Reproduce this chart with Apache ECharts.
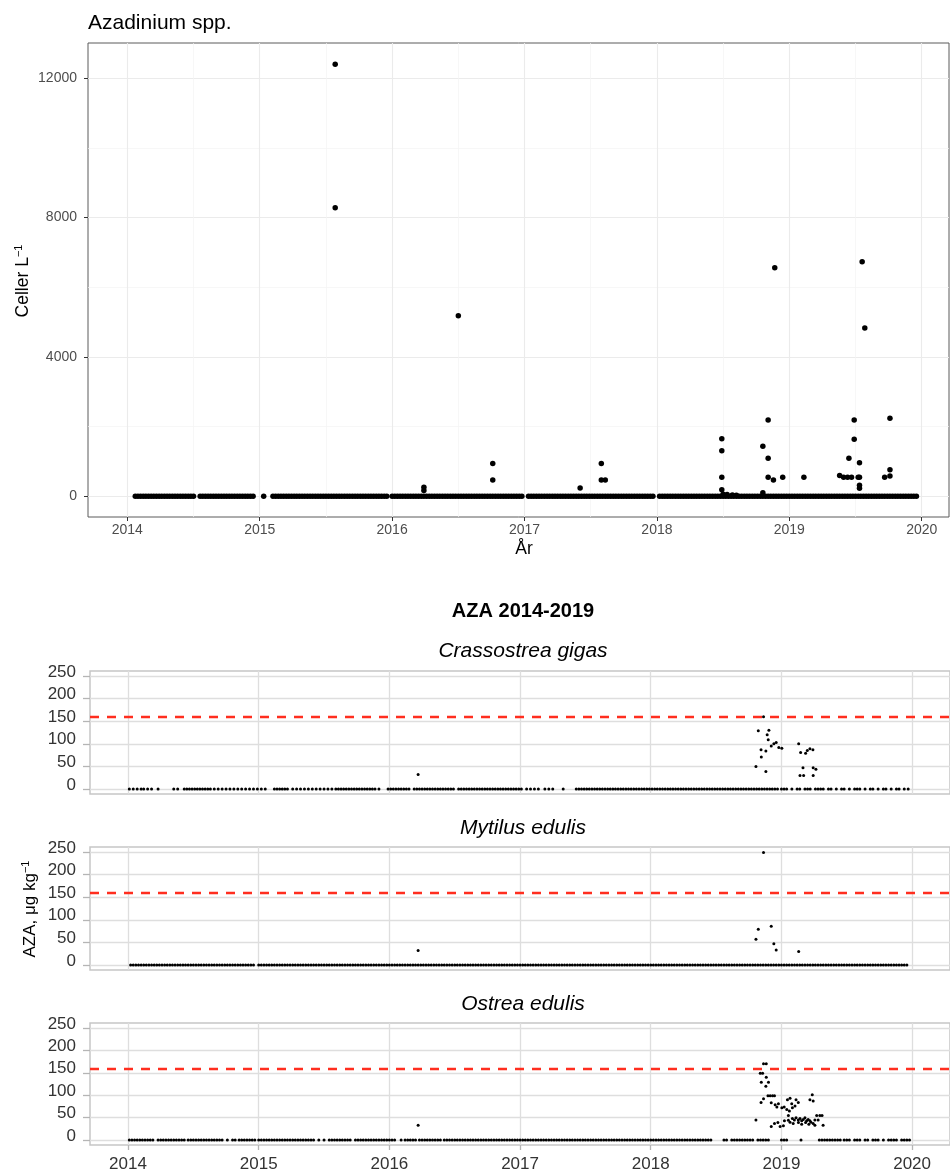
<!DOCTYPE html>
<html><head><meta charset="utf-8">
<script src="https://cdn.jsdelivr.net/npm/echarts@6/dist/echarts.min.js"></script>
<style>html,body{margin:0;padding:0;background:#fff}#c{width:950px;height:1173px}</style>
</head><body><div id="c"></div>
<script>
// ---------- axis ticks ----------
const yearTicks = [2014, 2015, 2016, 2017, 2018, 2019, 2020];
const halfYearLines = [2014.5, 2015.5, 2016.5, 2017.5, 2018.5, 2019.5];
const cellTicks = [0, 4000, 8000, 12000];
const cellMinorLines = [2000, 6000, 10000];
const azaTicks = [0, 50, 100, 150, 200, 250];
const azaLimit = 160;

// ---------- Azadinium spp. (celler/L) ----------
const cellZeroYears = [
2014.06,2014.08,2014.10,2014.12,2014.14,2014.16,2014.18,2014.20,2014.22,2014.24,2014.26,2014.28,2014.30,2014.32,2014.34,2014.36,2014.38,2014.40,2014.42,2014.44,2014.46,2014.48,2014.50,
2014.55,2014.57,2014.59,2014.61,2014.63,2014.65,2014.67,2014.69,2014.71,2014.73,2014.75,2014.77,2014.79,2014.81,2014.83,2014.85,2014.87,2014.89,2014.91,2014.93,2014.95,
2015.03,
2015.10,2015.12,2015.14,2015.16,2015.18,2015.20,2015.22,2015.24,2015.26,2015.28,2015.30,2015.32,2015.34,2015.36,2015.38,2015.40,2015.42,2015.44,2015.46,2015.48,2015.50,2015.52,2015.54,2015.56,2015.58,2015.60,2015.62,2015.64,2015.66,2015.68,2015.70,2015.72,2015.74,2015.76,2015.78,2015.80,2015.82,2015.84,2015.86,2015.88,2015.90,2015.92,2015.94,2015.96,
2016.00,2016.02,2016.04,2016.06,2016.08,2016.10,2016.12,2016.14,2016.16,2016.18,2016.20,2016.22,2016.24,2016.26,2016.28,2016.30,2016.32,2016.34,2016.36,2016.38,2016.40,2016.42,2016.44,2016.46,2016.48,2016.50,2016.52,2016.54,2016.56,2016.58,2016.60,2016.62,2016.64,2016.66,2016.68,2016.70,2016.72,2016.74,2016.76,2016.78,2016.80,2016.82,2016.84,2016.86,2016.88,2016.90,2016.92,2016.94,2016.96,2016.98,
2017.03,2017.05,2017.07,2017.09,2017.11,2017.13,2017.15,2017.17,2017.19,2017.21,2017.23,2017.25,2017.27,2017.29,2017.31,2017.33,2017.35,2017.37,2017.39,2017.41,2017.43,2017.45,2017.47,2017.49,2017.51,2017.53,2017.55,2017.57,2017.59,2017.61,2017.63,2017.65,2017.67,2017.69,2017.71,2017.73,2017.75,2017.77,2017.79,2017.81,2017.83,2017.85,2017.87,2017.89,2017.91,2017.93,2017.95,2017.97,
2018.02,2018.04,2018.06,2018.08,2018.10,2018.12,2018.14,2018.16,2018.18,2018.20,2018.22,2018.24,2018.26,2018.28,2018.30,2018.32,2018.34,2018.36,2018.38,2018.40,2018.42,2018.44,2018.46,2018.48,2018.50,2018.52,2018.54,2018.56,2018.58,2018.60,2018.62,2018.64,2018.66,2018.68,2018.70,2018.72,2018.74,2018.76,2018.78,2018.80,2018.82,2018.84,2018.86,2018.88,2018.90,2018.92,2018.94,2018.96,2018.98,
2019.00,2019.02,2019.04,2019.06,2019.08,2019.10,2019.12,2019.14,2019.16,2019.18,2019.20,2019.22,2019.24,2019.26,2019.28,2019.30,2019.32,2019.34,2019.36,2019.38,2019.40,2019.42,2019.44,2019.46,2019.48,2019.50,2019.52,2019.54,2019.56,2019.58,2019.60,2019.62,2019.64,2019.66,2019.68,2019.70,2019.72,2019.74,2019.76,2019.78,2019.80,2019.82,2019.84,2019.86,2019.88,2019.90,2019.92,2019.94,2019.96
];
const cellPeakYears  = [2015.57,2015.57,2016.24,2016.24,2016.50,2016.76,2016.76,2017.42,2017.58,2017.58,2017.61,2018.49,2018.49,2018.49,2018.49,2018.50,2018.53,2018.57,2018.60,2018.80,2018.80,2018.84,2018.84,2018.84,2018.88,2018.89,2018.95,2019.11,2019.38,2019.41,2019.44,2019.45,2019.47,2019.49,2019.49,2019.52,2019.53,2019.53,2019.53,2019.53,2019.55,2019.57,2019.72,2019.76,2019.76,2019.76];
const cellPeakValues = [12400,8280,260,170,5180,940,470,240,940,470,470,1650,1310,550,190,60,50,40,30,1440,100,2190,1090,550,470,6560,550,550,600,550,550,1090,550,2190,1640,550,960,550,320,230,6730,4830,550,2240,760,580];

// ---------- AZA, Crassostrea gigas ----------
const gigasZeroYears = [
2014.01,2014.04,2014.07,2014.10,2014.12,2014.15,2014.18,2014.23,
2014.35,2014.38,
2014.43,2014.45,2014.47,2014.49,2014.51,2014.53,2014.55,2014.57,2014.59,2014.61,2014.63,
2014.66,2014.69,2014.72,2014.75,2014.78,2014.81,2014.84,2014.87,2014.90,2014.93,2014.96,2014.99,
2015.02,2015.05,
2015.12,2015.14,2015.16,2015.18,2015.20,2015.22,
2015.26,2015.29,2015.32,2015.35,2015.38,2015.41,2015.44,2015.47,2015.50,2015.53,2015.56,
2015.59,2015.61,2015.63,2015.65,2015.67,2015.69,2015.71,2015.73,2015.75,2015.77,2015.79,2015.81,2015.83,2015.85,2015.87,2015.89,
2015.92,
2015.99,2016.01,2016.03,2016.05,2016.07,2016.09,2016.11,2016.13,2016.15,
2016.19,2016.21,2016.23,2016.25,2016.27,2016.29,2016.31,2016.33,2016.35,2016.37,2016.39,2016.41,2016.43,2016.45,2016.47,2016.49,
2016.53,2016.55,2016.57,2016.59,2016.61,2016.63,2016.65,2016.67,2016.69,2016.71,2016.73,2016.75,2016.77,2016.79,2016.81,2016.83,2016.85,2016.87,2016.89,2016.91,2016.93,2016.95,2016.97,2016.99,2017.01,
2017.05,2017.08,2017.11,2017.14,
2017.19,2017.22,2017.25,
2017.33,
2017.43,2017.45,2017.47,2017.49,2017.51,2017.53,2017.55,2017.57,2017.59,2017.61,2017.63,2017.65,2017.67,2017.69,2017.71,2017.73,2017.75,2017.77,2017.79,2017.81,2017.83,2017.85,2017.87,2017.89,2017.91,2017.93,2017.95,2017.97,2017.99,
2018.01,2018.03,2018.05,2018.07,2018.09,2018.11,2018.13,2018.15,2018.17,2018.19,2018.21,2018.23,2018.25,2018.27,2018.29,2018.31,2018.33,2018.35,2018.37,2018.39,2018.41,2018.43,2018.45,2018.47,2018.49,2018.51,2018.53,2018.55,2018.57,2018.59,2018.61,2018.63,2018.65,2018.67,2018.69,2018.71,2018.73,2018.75,2018.77,2018.79,2018.81,2018.83,2018.85,2018.87,2018.89,2018.91,2018.93,2018.95,2018.97,
2019.00,2019.02,2019.04,2019.08,2019.12,2019.14,2019.18,2019.20,2019.22,2019.26,2019.28,2019.30,2019.32,2019.36,2019.38,2019.42,2019.46,2019.48,2019.52,2019.56,2019.58,2019.60,2019.64,2019.68,2019.70,2019.74,2019.78,2019.80,2019.84,2019.88,2019.90,2019.94,2019.97
];
const gigasYears  = [2016.22,2018.805,2018.823,2018.844,2018.846,2018.863,2018.881,2018.881,2018.891,2018.904,2018.899,2018.922,2018.942,2018.960,2018.980,2019.003,2019.132,2019.142,2019.147,2019.165,2019.170,2019.185,2019.198,2019.218,2019.241,2019.243,2019.243,2019.264];
const gigasValues = [32,50,129,87,71,160,84,39,120,130,109,95,100,103,92,90,100,30,81,47,30,79,85,89,87,47,30,44];

// ---------- AZA, Mytilus edulis ----------
const mytilusZeroYears = [
2014.02,2014.04,2014.06,2014.08,2014.10,2014.12,2014.14,2014.16,2014.18,2014.20,2014.22,2014.24,2014.26,2014.28,2014.30,2014.32,2014.34,2014.36,2014.38,2014.40,2014.42,2014.44,2014.46,2014.48,2014.50,2014.52,2014.54,2014.56,2014.58,2014.60,2014.62,2014.64,2014.66,2014.68,2014.70,2014.72,2014.74,2014.76,2014.78,2014.80,2014.82,2014.84,2014.86,2014.88,2014.90,2014.92,2014.94,2014.96,
2015.00,2015.02,2015.04,2015.06,2015.08,2015.10,2015.12,2015.14,2015.16,2015.18,2015.20,2015.22,2015.24,2015.26,2015.28,2015.30,2015.32,2015.34,2015.36,2015.38,2015.40,2015.42,2015.44,2015.46,2015.48,2015.50,2015.52,2015.54,2015.56,2015.58,2015.60,2015.62,2015.64,2015.66,2015.68,2015.70,2015.72,2015.74,2015.76,2015.78,2015.80,2015.82,2015.84,2015.86,2015.88,2015.90,2015.92,2015.94,2015.96,2015.98,
2016.00,2016.02,2016.04,2016.06,2016.08,2016.10,2016.12,2016.14,2016.16,2016.18,2016.20,2016.22,2016.24,2016.26,2016.28,2016.30,2016.32,2016.34,2016.36,2016.38,2016.40,2016.42,2016.44,2016.46,2016.48,2016.50,2016.52,2016.54,2016.56,2016.58,2016.60,2016.62,2016.64,2016.66,2016.68,2016.70,2016.72,2016.74,2016.76,2016.78,2016.80,2016.82,2016.84,2016.86,2016.88,2016.90,2016.92,2016.94,2016.96,2016.98,
2017.00,2017.02,2017.04,2017.06,2017.08,2017.10,2017.12,2017.14,2017.16,2017.18,2017.20,2017.22,2017.24,2017.26,2017.28,2017.30,2017.32,2017.34,2017.36,2017.38,2017.40,2017.42,2017.44,2017.46,2017.48,2017.50,2017.52,2017.54,2017.56,2017.58,2017.60,2017.62,2017.64,2017.66,2017.68,2017.70,2017.72,2017.74,2017.76,2017.78,2017.80,2017.82,2017.84,2017.86,2017.88,2017.90,2017.92,2017.94,2017.96,2017.98,
2018.00,2018.02,2018.04,2018.06,2018.08,2018.10,2018.12,2018.14,2018.16,2018.18,2018.20,2018.22,2018.24,2018.26,2018.28,2018.30,2018.32,2018.34,2018.36,2018.38,2018.40,2018.42,2018.44,2018.46,2018.48,2018.50,2018.52,2018.54,2018.56,2018.58,2018.60,2018.62,2018.64,2018.66,2018.68,2018.70,2018.72,2018.74,2018.76,2018.78,2018.80,2018.82,2018.84,2018.86,2018.88,2018.90,2018.92,2018.94,2018.96,2018.98,
2019.00,2019.02,2019.04,2019.06,2019.08,2019.10,2019.12,2019.14,2019.16,2019.18,2019.20,2019.22,2019.24,2019.26,2019.28,2019.30,2019.32,2019.34,2019.36,2019.38,2019.40,2019.42,2019.44,2019.46,2019.48,2019.50,2019.52,2019.54,2019.56,2019.58,2019.60,2019.62,2019.64,2019.66,2019.68,2019.70,2019.72,2019.74,2019.76,2019.78,2019.80,2019.82,2019.84,2019.86,2019.88,2019.90,2019.92,2019.94,2019.96
];
const mytilusYears  = [2016.22,2018.805,2018.823,2018.863,2018.922,2018.942,2018.960,2019.132];
const mytilusValues = [32,57,79,249,86,47,33,30];

// ---------- AZA, Ostrea edulis ----------
const ostreaZeroYears = [
2014.01,2014.03,2014.05,2014.07,2014.09,2014.11,2014.13,2014.15,2014.17,2014.19,
2014.23,2014.25,2014.27,2014.29,2014.31,2014.33,2014.35,2014.37,2014.39,2014.41,2014.43,
2014.46,2014.48,2014.50,2014.52,2014.54,2014.56,2014.58,2014.60,2014.62,2014.64,2014.66,2014.68,2014.70,
2014.72,2014.76,
2014.80,2014.82,2014.85,
2014.87,2014.89,2014.91,2014.93,2014.95,2014.97,
2015.00,2015.02,2015.04,2015.06,2015.08,2015.10,2015.12,2015.14,2015.16,2015.18,2015.20,2015.22,2015.24,2015.26,2015.28,2015.30,2015.32,2015.34,2015.36,2015.38,2015.40,2015.42,
2015.46,2015.50,2015.54,
2015.56,2015.58,2015.60,2015.62,2015.64,2015.66,2015.68,2015.70,
2015.74,2015.76,2015.78,2015.80,2015.82,2015.84,2015.86,2015.88,2015.90,2015.92,2015.94,2015.96,2015.98,2016.00,2016.02,2016.04,
2016.09,
2016.12,2016.14,2016.16,2016.18,2016.20,
2016.23,2016.25,2016.27,2016.29,2016.31,2016.33,2016.35,2016.37,2016.39,
2016.42,2016.44,2016.46,2016.48,2016.50,
2016.52,2016.54,2016.56,2016.58,2016.60,2016.62,2016.64,2016.66,2016.68,2016.70,2016.72,2016.74,2016.76,2016.78,2016.80,2016.82,2016.84,2016.86,2016.88,2016.90,2016.92,2016.94,2016.96,2016.98,
2017.00,2017.02,2017.04,2017.06,2017.08,2017.10,2017.12,2017.14,2017.16,2017.18,2017.20,2017.22,2017.24,2017.26,2017.28,2017.30,2017.32,2017.34,2017.36,2017.38,2017.40,2017.42,2017.44,2017.46,2017.48,2017.50,2017.52,2017.54,2017.56,2017.58,2017.60,2017.62,2017.64,2017.66,2017.68,2017.70,2017.72,2017.74,2017.76,2017.78,2017.80,2017.82,2017.84,2017.86,2017.88,2017.90,2017.92,2017.94,2017.96,2017.98,
2018.00,2018.02,2018.04,2018.06,2018.08,2018.10,2018.12,2018.14,2018.16,2018.18,2018.20,2018.22,2018.24,2018.26,2018.28,2018.30,2018.32,2018.34,2018.36,2018.38,2018.40,2018.42,2018.44,2018.46,
2018.56,2018.58,
2018.62,2018.64,2018.66,2018.68,2018.70,2018.72,2018.74,2018.76,2018.78,
2018.82,2018.84,2018.86,
2018.88,2018.90,
2019.00,2019.02,2019.04,
2019.15,
2019.29,2019.31,2019.33,2019.35,2019.37,2019.39,2019.41,2019.43,2019.45,
2019.48,2019.50,2019.52,2019.56,2019.58,2019.60,2019.64,2019.66,2019.70,2019.72,2019.74,2019.78,2019.82,2019.84,2019.86,2019.88,2019.92,2019.94,2019.96,2019.98
];
const ostreaYears = [2016.22,
2018.863,2018.884,2018.838,2018.856,2018.884,2018.846,2018.901,2018.881,2018.897,2018.914,2018.932,2018.947,2018.863,2018.844,2018.922,2018.952,2018.977,2018.965,2019.003,2019.021,2019.046,2019.066,2019.041,2019.061,2019.079,2019.112,2019.129,2019.104,2019.084,2019.053,2019.236,2019.218,2019.243,2018.805,
2018.922,2018.947,2018.973,2018.990,2019.015,2019.023,2019.053,2019.066,2019.084,2019.099,2019.112,2019.129,2019.142,2019.155,2019.167,2019.180,2019.193,2019.205,2019.210,2019.226,2019.243,2019.256,2019.270,2019.294,2019.311,2019.319,2019.281,2019.090,2019.130,2019.155,2019.185,2019.218,2019.256];
const ostreaValues = [33,
170,170,149,149,140,129,129,120,99,99,99,99,92,84,83,79,81,74,72,74,90,93,68,65,81,90,84,76,72,55,101,90,87,45,
30,37,39,30,32,43,44,40,48,45,50,45,48,43,46,50,43,46,35,40,37,45,55,55,55,33,45,37,39,35,39,43,33];

// ---------- build ----------
const FONT = '"Liberation Sans", Arial, Helvetica, sans-serif';
const X_TOP = {min: 2013.703, max: 2020.206};
const X_BOT = {min: 2013.709, max: 2020.290};
const Y_TOP = {min: -594, max: 13013};
const Y_BOT = {min: -11, max: 261};
const plain = v => String(v);

function pairs(xs, ys) { return xs.map((x, i) => [x, ys[i]]); }
function zeros(xs) { return xs.map(x => [x, 0]); }

const cellData = zeros(cellZeroYears).concat(pairs(cellPeakYears, cellPeakValues));
const gigasData = zeros(gigasZeroYears).concat(pairs(gigasYears, gigasValues));
const mytilusData = zeros(mytilusZeroYears).concat(pairs(mytilusYears, mytilusValues));
const ostreaData = zeros(ostreaZeroYears).concat(pairs(ostreaYears, ostreaValues));

const botGrids = [671, 847, 1023];
const grids = [{left: 88, top: 43, width: 861, height: 474, show: true, borderColor: '#5a5a5a', borderWidth: 1, backgroundColor: 'transparent'}];
botGrids.forEach(t => grids.push({left: 90, top: t, width: 866, height: 123, show: true, borderColor: '#c6c6c6', borderWidth: 1.5, backgroundColor: 'transparent'}));

const xAxes = [
  {gridIndex: 0, type: 'value', min: X_TOP.min, max: X_TOP.max,
   axisLine: {show: false, onZero: false},
   axisTick: {show: true, customValues: yearTicks, length: 4, lineStyle: {color: '#333', width: 1}},
   axisLabel: {customValues: yearTicks, formatter: plain, margin: 6, fontSize: 14, color: '#4d4d4d', fontFamily: FONT},
   splitLine: {show: true, lineStyle: {color: '#ebebeb', width: 1.1}}},
  {gridIndex: 0, type: 'value', min: X_TOP.min, max: X_TOP.max,
   axisLine: {show: false, onZero: false},
   axisTick: {show: false, customValues: halfYearLines},
   axisLabel: {show: false, customValues: halfYearLines},
   splitLine: {show: true, lineStyle: {color: '#f3f3f3', width: 0.7}}}
];
const yAxes = [
  {gridIndex: 0, type: 'value', min: Y_TOP.min, max: Y_TOP.max,
   axisLine: {show: false, onZero: false},
   axisTick: {show: true, customValues: cellTicks, length: 4, lineStyle: {color: '#333', width: 1}},
   axisLabel: {customValues: cellTicks, formatter: plain, margin: 11, fontSize: 14, color: '#4d4d4d', fontFamily: FONT},
   splitLine: {show: true, lineStyle: {color: '#ebebeb', width: 1.1}}},
  {gridIndex: 0, type: 'value', min: Y_TOP.min, max: Y_TOP.max,
   axisLine: {show: false, onZero: false},
   axisTick: {show: false, customValues: cellMinorLines},
   axisLabel: {show: false, customValues: cellMinorLines},
   splitLine: {show: true, lineStyle: {color: '#f3f3f3', width: 0.7}}}
];
[1, 2, 3].forEach(g => {
  const last = g === 3;
  xAxes.push({gridIndex: g, type: 'value', min: X_BOT.min, max: X_BOT.max,
    axisLine: {show: false, onZero: false},
    axisTick: {show: last, customValues: yearTicks, length: 5, lineStyle: {color: '#b5b5b5', width: 1.3}},
    axisLabel: {show: last, customValues: yearTicks, formatter: plain, margin: 11, fontSize: 17, color: '#333', fontFamily: FONT},
    splitLine: {show: true, lineStyle: {color: '#dedede', width: 1.3}}});
  yAxes.push({gridIndex: g, type: 'value', min: Y_BOT.min, max: Y_BOT.max,
    axisLine: {show: false, onZero: false},
    axisTick: {show: true, customValues: azaTicks, length: 7, lineStyle: {color: '#b5b5b5', width: 1.3}},
    axisLabel: {customValues: azaTicks, formatter: plain, margin: 14, fontSize: 17, color: '#333', fontFamily: FONT,
                verticalAlign: 'bottom', lineHeight: 8},
    splitLine: {show: true, lineStyle: {color: '#dedede', width: 1.3}}});
});

function limitLine() {
  return {silent: true, symbol: ['none', 'none'], label: {show: false},
    lineStyle: {color: '#ff2e1f', type: [9, 8], width: 2.4, opacity: 1},
    emphasis: {disabled: true}, data: [{yAxis: azaLimit}]};
}

const dot = {color: '#000', opacity: 1};
const series = [
  {type: 'scatter', xAxisIndex: 0, yAxisIndex: 0, symbolSize: 5.5, itemStyle: dot, data: cellData, silent: true},
  {type: 'scatter', xAxisIndex: 2, yAxisIndex: 2, symbolSize: 3, itemStyle: dot, data: gigasData, silent: true, markLine: limitLine()},
  {type: 'scatter', xAxisIndex: 3, yAxisIndex: 3, symbolSize: 3, itemStyle: dot, data: mytilusData, silent: true, markLine: limitLine()},
  {type: 'scatter', xAxisIndex: 4, yAxisIndex: 4, symbolSize: 3, itemStyle: dot, data: ostreaData, silent: true, markLine: limitLine()}
];

function txt(x, y, text, font, align, extra) {
  return Object.assign({type: 'text', x: x, y: y, silent: true,
    style: {text: text, font: font, fill: '#000', align: align || 'center', verticalAlign: 'middle'}}, extra || {});
}

const graphic = [
  txt(88, 23, 'Azadinium spp.', '21px ' + FONT, 'left'),
  txt(524, 549, 'År', '17.5px ' + FONT, 'center'),
  txt(523, 611, 'AZA 2014-2019', 'bold 20px ' + FONT, 'center'),
  txt(523, 651, 'Crassostrea gigas', 'italic 21px ' + FONT, 'center'),
  txt(523, 828, 'Mytilus edulis', 'italic 21px ' + FONT, 'center'),
  txt(523, 1004, 'Ostrea edulis', 'italic 21px ' + FONT, 'center'),
  {type: 'text', x: 23, y: 281, rotation: Math.PI / 2, silent: true,
   style: {text: '{a|Celler L}{b|−1}', align: 'center', verticalAlign: 'middle',
     rich: {a: {fontSize: 17.5, fontFamily: FONT, fill: '#000', lineHeight: 20},
            b: {fontSize: 11, fontFamily: FONT, fill: '#000', verticalAlign: 'top', lineHeight: 12}}}},
  {type: 'text', x: 30, y: 909, rotation: Math.PI / 2, silent: true,
   style: {text: '{a|AZA, μg kg}{b|−1}', align: 'center', verticalAlign: 'middle',
     rich: {a: {fontSize: 17, fontFamily: FONT, fill: '#000', lineHeight: 20},
            b: {fontSize: 11, fontFamily: FONT, fill: '#000', verticalAlign: 'top', lineHeight: 12}}}}
];

const chart = echarts.init(document.getElementById('c'), null, {renderer: 'canvas'});
chart.setOption({
  animation: false,
  backgroundColor: '#ffffff',
  grid: grids,
  xAxis: xAxes,
  yAxis: yAxes,
  series: series,
  graphic: graphic
});
</script></body></html>
